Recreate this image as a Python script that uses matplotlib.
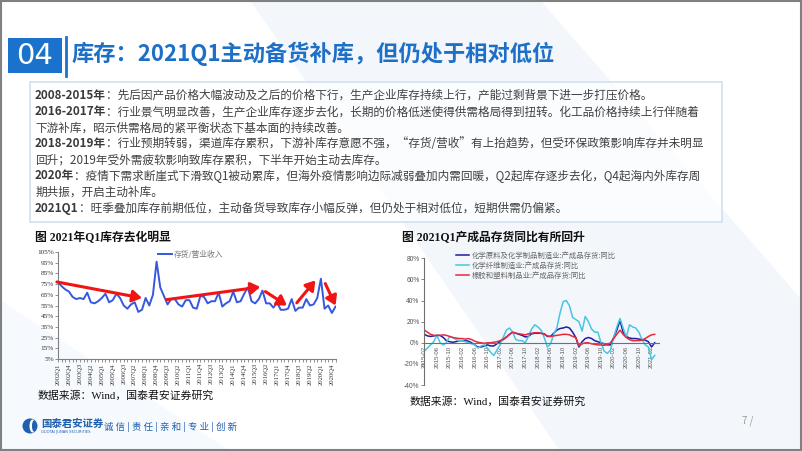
import matplotlib
matplotlib.use("Agg")
import matplotlib.pyplot as plt
from matplotlib.patches import Rectangle, Polygon, Circle, Ellipse

plt.rcParams['font.family'] = ['Noto Sans CJK SC', 'DejaVu Sans']

# ---------------- data ----------------
quarters = [f"{y}Q{q}" for y in range(2002, 2021) for q in range(1, 5)] + ["2021Q1"]
inv_ratio = [77, 73, 70, 68,
             63, 61, 62, 61,
             67, 58, 57, 59,
             62, 66, 58, 60,
             66, 62, 55, 52,
             56, 58, 49, 51,
             62, 55, 65, 96,
             72, 64, 56, 61,
             61, 56, 54, 60,
             60, 53, 52, 64,
             63, 57, 59, 59,
             67, 54, 57, 59,
             68, 58, 59, 66,
             72, 59, 57, 61,
             69, 57, 57, 53,
             58, 51, 51, 52,
             61, 50, 53, 53,
             61, 55, 56, 62,
             80, 52, 55, 48,
             54]
left_series_name = "存货/营业收入"
left_yticks = list(range(5, 106, 10))
# arrows: (start idx, start value, end idx, end value)
arrows = [(-0.3, 77, 23, 62), (29.8, 60.5, 55.4, 72.3), (56.8, 68, 62.7, 55),
          (65.4, 57.5, 70.5, 78.5), (73.2, 75.5, 76, 55)]

months = [f"{y}-{m:02d}" for y in range(2015, 2022) for m in range(1, 13)]
months = months[1:months.index("2021-03") + 1]
chem_raw = [8, 6.5, 6, 6.5, 7, 7, 5, 2, 1, 0.5, 1,
            2, 2, 2, 1.5, 0, -2, -4, -4, -3, -2, -3, -3,
            -1, 1, 3, 5.5, 8, 10, 9, 8, 7, 5.5, 6, 8.5,
            9, 9, 9, 8.5, 6, 6, 9, 12, 13.5, 14, 15, 14,
            10, 5, -4, 1, 4, 5, 4, 2, 1, 0, -1, -2,
            -2, 5, 12, 21, 10, 6, 4.5, 4, 4, 3.5, 3, 2.5,
            1, -4, 0]
chem_fiber = [-8, -5, -2, 1, 7, 0, -2, 0, 6, 5, 3,
              2, 2, 1, 0, -1, -2, -5, -3, -2, -5, -9, -12,
              -7, -2, 5, 12, 14, 10, 3, 2, 2, 0, 6, 13,
              17, 15, 12, 5, -4, -1, 8, 14, 28, 39, 40, 35,
              24, 22, 20, 11, 25, 20, 13, 10, 10, 0, -8, -10,
              -7, 5, 15, 23, 14, 5, 17, 15, 14, 10, 3, -2,
              -4, -16, -12]
rubber_plastic = [12, 10, 8, 7, 7, 7, 7.5, 7, 6, 5, 4.5,
                  4, 4, 3.5, 4, 3, 1.5, 0.5, 0, -0.5, 0, 0, 0.5,
                  1, 2, 3.5, 5, 8, 10, 9, 8.5, 8, 7.5, 8.5, 9,
                  9.5, 9.5, 9, 8, 6.5, 6, 6.5, 7, 7.5, 8, 8, 7.5,
                  6, 5, -3, -1, 0, 0, -1, -1.5, -2, -2, -2.5, -1.5,
                  0, 4, 8, 12, 8, 5, 3, 2, 2, 2, 2.5, 4,
                  6, 7.5, 8]
right_names = ["化学原料及化学制品制造业:产成品存货:同比",
               "化学纤维制造业:产成品存货:同比",
               "橡胶和塑料制品业:产成品存货:同比"]
right_colors = ["#1E1EA0", "#48C6E0", "#E8283C"]
right_yticks = list(range(-40, 81, 20))

body_lines = [
    ("2008-2015年", "：先后因产品价格大幅波动及之后的价格下行，生产企业库存持续上行，产能过剩背景下进一步打压价格。"),
    ("2016-2017年", "：行业景气明显改善，生产企业库存逐步去化，长期的价格低迷使得供需格局得到扭转。化工品价格持续上行伴随着"),
    ("", "下游补库，昭示供需格局的紧平衡状态下基本面的持续改善。"),
    ("2018-2019年", "：行业预期转弱，渠道库存累积，下游补库存意愿不强，“存货/营收”有上抬趋势，但受环保政策影响库存并未明显"),
    ("", "回升；2019年受外需疲软影响致库存累积，下半年开始主动去库存。"),
    ("2020年", "：疫情下需求断崖式下滑致Q1被动累库，但海外疫情影响边际减弱叠加内需回暖，Q2起库存逐步去化，Q4起海内外库存周"),
    ("", "期共振，开启主动补库。"),
    ("2021Q1", "：旺季叠加库存前期低位，主动备货导致库存小幅反弹，但仍处于相对低位，短期供需仍偏紧。"),
]

W, H = 802, 451
fig = plt.figure(figsize=(W / 100, H / 100), dpi=100)
fig.patch.set_facecolor("white")

def rect(x0, y0, x1, y1):
    return [x0 / W, 1 - y1 / H, (x1 - x0) / W, (y1 - y0) / H]

bg = fig.add_axes([0, 0, 1, 1])
bg.set_xlim(0, W)
bg.set_ylim(H, 0)
bg.axis("off")

# faint background shapes
bg.add_patch(Polygon([(250, 0), (540, 0), (802, 300), (802, 451), (560, 451)], closed=True,
                     facecolor="#F3F7FC", edgecolor="none", zorder=0))
bg.add_patch(Polygon([(0, 300), (0, 451), (230, 451)], closed=True,
                     facecolor="#F6F9FD", edgecolor="none", zorder=0))
bg.add_patch(Rectangle((0.75, 0.75), W - 1.5, H - 1.5, facecolor="none",
                       edgecolor="#808080", lw=1.5, zorder=10))

# title block
blue = "#1B72CC"
bg.add_patch(Rectangle((8, 38), 54, 35, facecolor=blue, edgecolor="none"))
bg.text(35, 56, "04", color="white", fontsize=21, ha="center", va="center",
        family=["DejaVu Sans"])
bg.plot([65.5, 65.5], [37, 76], color=blue, lw=2)
bg.text(72, 54, "库存：2021Q1主动备货补库，但仍处于相对低位", color="#1E6FC6",
        fontsize=16, fontweight="bold", va="center", ha="left")

# text box
bg.add_patch(Rectangle((29.5, 81.5), 692, 140, facecolor="white", alpha=0.7,
                       edgecolor="#BFD4EA", lw=1.2))
renderer = fig.canvas.get_renderer()
for i, (b, rest) in enumerate(body_lines):
    y = 95.5 + 16.1 * i
    x = 35
    if b:
        t = bg.text(x, y, b, fontsize=8.4, fontweight="bold", color="#3A3A3A",
                    va="center", ha="left")
        x += t.get_window_extent(renderer).width
    bg.text(x, y, rest, fontsize=8.4, color="#404040", va="center", ha="left")

# chart titles / sources
serif_cjk = ["Liberation Serif", "Noto Sans CJK SC"]
bg.text(35, 238, "图 2021年Q1库存去化明显", fontsize=8.5, fontweight="bold",
        family=serif_cjk, va="center", color="#111111")
bg.text(402, 238, "图 2021Q1产成品存货同比有所回升", fontsize=8.5, fontweight="bold",
        family=serif_cjk, va="center", color="#111111")
bg.text(38, 396, "数据来源：Wind，国泰君安证券研究", fontsize=7.8, family=serif_cjk,
        va="center", color="#111111")
bg.text(410, 401.5, "数据来源：Wind，国泰君安证券研究", fontsize=7.8, family=serif_cjk,
        va="center", color="#111111")

# ---------------- left chart ----------------
axL = fig.add_axes(rect(58, 252, 335.5, 359))
axL.patch.set_alpha(0)
xs = list(range(len(quarters)))
lineL, = axL.plot(xs, inv_ratio, color="#3558DE", lw=1.4, zorder=3)
axL.set_xlim(0, len(quarters) - 1)
axL.set_ylim(5, 105)
axL.set_yticks(left_yticks)
axL.set_yticklabels([f"{v}%" for v in left_yticks], fontsize=5.2, family="Liberation Serif",
                    color="#333333")
axL.set_xticks(xs)
axL.set_xticklabels([q if i % 3 == 0 else "" for i, q in enumerate(quarters)], rotation=90,
                    fontsize=4.8, family="Liberation Serif", color="#333333")
for s in ["top", "right"]:
    axL.spines[s].set_visible(False)
for s in ["left", "bottom"]:
    axL.spines[s].set_color("#808080")
    axL.spines[s].set_linewidth(0.8)
axL.tick_params(axis="both", length=2, width=0.6, color="#808080", pad=1)
for (x0, y0, x1, y1) in arrows:
    axL.annotate("", xy=(x1, y1), xytext=(x0, y0), annotation_clip=False,
                 arrowprops=dict(arrowstyle="-|>,head_length=0.55,head_width=0.35",
                                 color="#F01414", lw=2.2, mutation_scale=10,
                                 shrinkA=0, shrinkB=0), zorder=5)
legL = axL.legend([lineL], [left_series_name], loc="upper left",
                  bbox_to_anchor=(157.5 / W, 1 - 251 / H), bbox_transform=fig.transFigure,
                  frameon=False, fontsize=5.6, handlelength=1.9, handletextpad=0.25,
                  borderpad=0, borderaxespad=0)
for t in legL.get_texts():
    t.set_color("#777777")

# ---------------- right chart ----------------
n = len(months)
axR = fig.add_axes(rect(424.3, 258.3, 424.3 + 74.5 * 3.156, 385))
axR.patch.set_alpha(0)
axR.spines["top"].set_visible(False)
axR.spines["right"].set_visible(False)
axR.spines["bottom"].set_position(("data", 0))
xr = list(range(n))
hs = []
for vals, c in zip([chem_raw, chem_fiber, rubber_plastic], right_colors):
    h, = axR.plot(xr, vals, color=c, lw=1.1)
    hs.append(h)
axR.set_xlim(0, 74.5)
axR.set_ylim(-40, 80)
axR.set_yticks(right_yticks)
axR.set_yticklabels([f"{v}%" for v in right_yticks], fontsize=4.8, family="Liberation Sans",
                    color="#555555")
axR.set_xticks(xr[::4])
axR.set_xticklabels(months[::4], rotation=90, fontsize=4.3, family="Liberation Sans",
                    color="#555555")
for s in ["left", "bottom"]:
    axR.spines[s].set_color("#707070")
    axR.spines[s].set_linewidth(0.8)
axR.tick_params(axis="y", length=2.5, width=0.6, color="#707070", pad=1)
axR.tick_params(axis="x", length=0, pad=2)
legR = axR.legend(hs, right_names, loc="upper left",
                  bbox_to_anchor=(455.5 / W, 1 - 251.5 / H), bbox_transform=fig.transFigure,
                  frameon=False, fontsize=5.3, handlelength=1.9, handletextpad=0.25,
                  borderpad=0, borderaxespad=0, labelspacing=0.3)
for t in legR.get_texts():
    t.set_color("#666666")

# ---------------- footer ----------------
bg.add_patch(Circle((30, 426), 7.5, facecolor="#1F5FB0", edgecolor="none"))
bg.add_patch(Ellipse((32.5, 426), 6, 13, facecolor="white", edgecolor="none"))
bg.add_patch(Ellipse((34, 426), 4, 11, facecolor="#1F5FB0", edgecolor="none"))
bg.text(41, 423.5, "国泰君安证券", fontsize=7.5, fontweight="bold", color="#1F5FB0",
        va="center", ha="left")
bg.text(41, 431.5, "GUOTAI JUNAN SECURITIES", fontsize=2.6, color="#1F5FB0",
        va="center", ha="left", family=["DejaVu Sans"])
bg.text(104, 426.5, "诚 信 | 责 任 | 亲 和 | 专 业 | 创 新", fontsize=6.8, color="#1F5FB0",
        va="center", ha="left")
bg.text(742, 421, "7 /", fontsize=7, color="#999999", va="center", ha="left")

fig.savefig("out.png", dpi=100)
